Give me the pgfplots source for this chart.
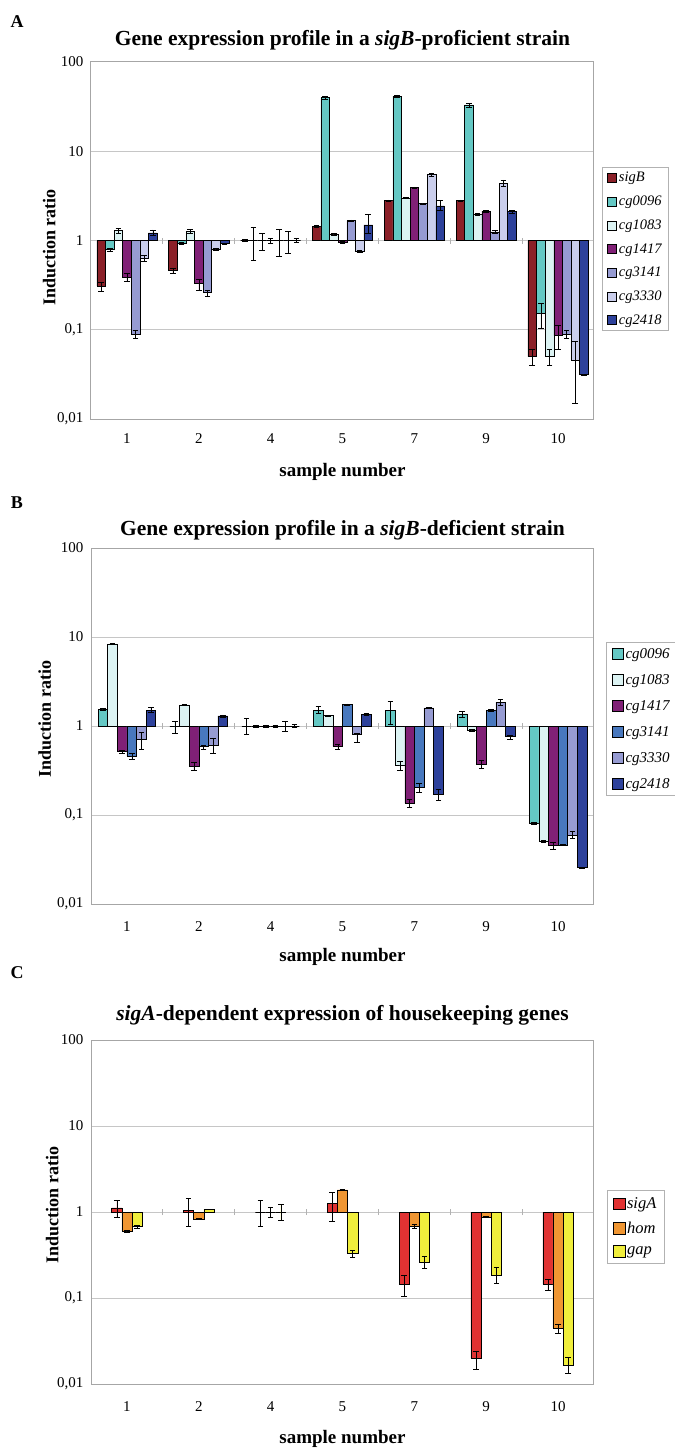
\documentclass[border=0pt]{standalone}
\usepackage{fontspec}
\setmainfont{Liberation Serif}
\usepackage{pgfplots}
\usepackage{pgfplotstable}
\pgfplotsset{compat=1.18}

\definecolor{csigB}{RGB}{139,32,40}
\definecolor{c0096}{RGB}{100,200,196}
\definecolor{c1083}{RGB}{220,243,243}
\definecolor{c1417}{RGB}{128,32,118}
\definecolor{c3141a}{RGB}{150,155,210}
\definecolor{c3330a}{RGB}{202,206,236}
\definecolor{c2418}{RGB}{45,65,155}
\definecolor{c3141b}{RGB}{72,120,190}
\definecolor{c3330b}{RGB}{150,155,210}
\definecolor{csigA}{RGB}{225,50,50}
\definecolor{chom}{RGB}{240,150,50}
\definecolor{cgap}{RGB}{240,238,60}

% samples 1,2,4,5,7,9,10 at x = 0..6; value, error plus, error minus
\pgfplotstableread{
x B Bp Bm c96 c96p c96m c83 c83p c83m c17 c17p c17m c41 c41p c41m c30 c30p c30m c18 c18p c18m
0 0.31 0.035 0.04 0.79 0.03 0.03 1.3 0.08 0.08 0.39 0.04 0.04 0.09 0.01 0.01 0.64 0.04 0.06 1.22 0.1 0.08
1 0.46 0.03 0.03 0.93 0.02 0.02 1.27 0.07 0.07 0.33 0.04 0.05 0.26 0.015 0.025 0.79 0.02 0.02 0.92 0.02 0.02
2 1 0.03 0.03 1 0.42 0.4 1 0.2 0.22 1 0.06 0.06 1 0.33 0.33 1 0.28 0.27 1 0.05 0.05
3 1.45 0.05 0.05 40 1.5 1.5 1.17 0.03 0.03 0.96 0.02 0.02 1.67 0.04 0.04 0.76 0.02 0.02 1.5 0.45 0.3
4 2.8 0.05 0.05 41.5 1.5 1.5 3.0 0.05 0.05 3.9 0.08 0.08 2.6 0.04 0.04 5.5 0.25 0.25 2.45 0.35 0.25
5 2.8 0.05 0.05 33 1.5 1.5 1.97 0.04 0.04 2.13 0.04 0.04 1.25 0.04 0.04 4.4 0.4 0.3 2.1 0.06 0.06
6 0.05 0.01 0.01 0.153 0.045 0.05 0.05 0.01 0.01 0.086 0.026 0.025 0.09 0.01 0.01 0.046 0.028 0.031 0.0316 0.0005 0.0005
}\tabA

\pgfplotstableread{
x c96 c96p c96m c83 c83p c83m c17 c17p c17m c41 c41p c41m c30 c30p c30m c18 c18p c18m
0 1.55 0.05 0.05 8.4 0.2 0.2 0.52 0.02 0.03 0.46 0.04 0.04 0.71 0.15 0.16 1.5 0.12 0.08
1 1 0.14 0.16 1.73 0.02 0.02 0.35 0.04 0.035 0.59 0.02 0.035 0.61 0.12 0.12 1.3 0.03 0.03
2 1 0.21 0.2 1 0.03 0.03 1 0.03 0.03 1 0.03 0.03 1 0.14 0.12 1 0.04 0.04
3 1.5 0.17 0.1 1.32 0.02 0.02 0.59 0.03 0.035 1.75 0.03 0.03 0.8 0.02 0.15 1.35 0.03 0.03
4 1.5 0.4 0.45 0.36 0.04 0.04 0.136 0.015 0.015 0.205 0.025 0.025 1.6 0.03 0.03 0.17 0.024 0.022
5 1.37 0.1 0.1 0.89 0.02 0.02 0.37 0.04 0.035 1.5 0.05 0.05 1.85 0.15 0.15 0.77 0.02 0.06
6 0.081 0.003 0.003 0.051 0.001 0.001 0.046 0.004 0.005 0.046 0.0005 0.0005 0.06 0.006 0.005 0.0258 0.0003 0.0003
}\tabB

\pgfplotstableread{
x A Ap Am h hp hm g gp gm
0 1.12 0.26 0.24 0.60 0.01 0.01 0.69 0.02 0.05
1 1.05 0.38 0.36 0.83 0.01 0.01 1.08 0.01 0.01
2 1 0.36 0.31 1 0.15 0.14 1 0.23 0.19
3 1.25 0.44 0.47 1.81 0.02 0.02 0.33 0.03 0.035
4 0.145 0.04 0.04 0.69 0.03 0.04 0.26 0.045 0.04
5 0.02 0.004 0.005 0.88 0.015 0.015 0.185 0.045 0.038
6 0.145 0.02 0.022 0.045 0.005 0.006 0.0165 0.004 0.0032
}\tabC

\newcommand{\tickfont}{\fontsize{15bp}{17bp}\selectfont}
\newcommand{\legfont}{\fontsize{14.5bp}{16bp}\selectfont\itshape}
\newcommand{\labfont}{\bfseries\fontsize{19bp}{21bp}\selectfont}
\newcommand{\ylabfont}{\bfseries\fontsize{18bp}{20bp}\selectfont}
\newcommand{\titfont}{\bfseries\fontsize{21.5bp}{24bp}\selectfont}
\newcommand{\letfont}{\bfseries\fontsize{18bp}{18bp}\selectfont}

\begin{document}
\begin{tikzpicture}
\useasboundingbox (0,0) rectangle (675bp,-1448bp);

\node[font=\letfont] at (17bp,-22bp) {A};
\node[font=\letfont] at (17bp,-503bp) {B};
\node[font=\letfont] at (17bp,-973bp) {C};

% ---------- A ----------
\begin{axis}[
  at={(91bp,-419bp)}, anchor=south west,
  scale only axis, width=503bp, height=357bp,
  ymode=log, ymin=0.01, ymax=100,
  xmin=-0.5, xmax=6.5,
  xtick={0,...,6}, xticklabels={1,2,4,5,7,9,10},
  ytick={0.01,0.1,1,10,100}, yticklabels={{0,01},{0,1},1,10,100},
  yminorticks=false, major tick length=0pt,
  ymajorgrids, grid style={draw=gray!45, line width=1bp},
  axis line style={draw=gray!70, line width=1bp},
  ticklabel style={font=\tickfont},
  yticklabel style={xshift=-4bp},
  xticklabel style={anchor=center, yshift=-20bp},
  ylabel={Induction ratio},
  ylabel style={font=\ylabfont, at={(axis description cs:-0.083,0.48)}, anchor=center},
  xlabel={sample number},
  xlabel style={font=\labfont, at={(axis description cs:0.5,-0.148)}, anchor=center},
  title={Gene expression profile in a \textit{sigB}-proficient strain},
  title style={font=\titfont, at={(axis description cs:0.5,1)}, anchor=center, yshift=16bp},
  ybar=0pt, bar width=8.6bp,
  every axis plot/.append style={area legend},
  legend image post style={xscale=0.53, yscale=1.6},
  legend cell align=left,
  legend style={at={(axis description cs:1.016,0.706)}, anchor=north west,
    draw=gray!60, line width=0.8bp, font=\legfont, inner xsep=5bp, inner ysep=3bp, row sep=8.6bp},
]
\addplot[draw=black, fill=csigB, line width=0.5bp, error bars/.cd, y dir=both, y explicit, error mark options={rotate=90, mark size=2.8bp}] table[x=x, y=B, y error plus=Bp, y error minus=Bm] {\tabA};
\addplot[draw=black, fill=c0096, line width=0.5bp, error bars/.cd, y dir=both, y explicit, error mark options={rotate=90, mark size=2.8bp}] table[x=x, y=c96, y error plus=c96p, y error minus=c96m] {\tabA};
\addplot[draw=black, fill=c1083, line width=0.5bp, error bars/.cd, y dir=both, y explicit, error mark options={rotate=90, mark size=2.8bp}] table[x=x, y=c83, y error plus=c83p, y error minus=c83m] {\tabA};
\addplot[draw=black, fill=c1417, line width=0.5bp, error bars/.cd, y dir=both, y explicit, error mark options={rotate=90, mark size=2.8bp}] table[x=x, y=c17, y error plus=c17p, y error minus=c17m] {\tabA};
\addplot[draw=black, fill=c3141a, line width=0.5bp, error bars/.cd, y dir=both, y explicit, error mark options={rotate=90, mark size=2.8bp}] table[x=x, y=c41, y error plus=c41p, y error minus=c41m] {\tabA};
\addplot[draw=black, fill=c3330a, line width=0.5bp, error bars/.cd, y dir=both, y explicit, error mark options={rotate=90, mark size=2.8bp}] table[x=x, y=c30, y error plus=c30p, y error minus=c30m] {\tabA};
\addplot[draw=black, fill=c2418, line width=0.5bp, error bars/.cd, y dir=both, y explicit, error mark options={rotate=90, mark size=2.8bp}] table[x=x, y=c18, y error plus=c18p, y error minus=c18m] {\tabA};
\legend{sigB, cg0096, cg1083, cg1417, cg3141, cg3330, cg2418}
\pgfplotsinvokeforeach{0.5,1.5,2.5,3.5,4.5,5.5}{
  \draw[gray!60, line width=0.8bp] ([yshift=-3bp]axis cs:#1,1) -- ([yshift=3bp]axis cs:#1,1);}
\end{axis}

% ---------- B ----------
\begin{axis}[
  at={(91bp,-904bp)}, anchor=south west,
  scale only axis, width=503bp, height=356bp,
  ymode=log, ymin=0.01, ymax=100,
  xmin=-0.5, xmax=6.5,
  xtick={0,...,6}, xticklabels={1,2,4,5,7,9,10},
  ytick={0.01,0.1,1,10,100}, yticklabels={{0,01},{0,1},1,10,100},
  yminorticks=false, major tick length=0pt,
  ymajorgrids, grid style={draw=gray!45, line width=1bp},
  axis line style={draw=gray!70, line width=1bp},
  ticklabel style={font=\tickfont},
  yticklabel style={xshift=-4bp},
  xticklabel style={anchor=center, yshift=-23bp},
  ylabel={Induction ratio},
  ylabel style={font=\ylabfont, at={(axis description cs:-0.092,0.52)}, anchor=center},
  xlabel={sample number},
  xlabel style={font=\labfont, at={(axis description cs:0.5,-0.149)}, anchor=center},
  title={Gene expression profile in a \textit{sigB}-deficient strain},
  title style={font=\titfont, at={(axis description cs:0.5,1)}, anchor=center, yshift=12bp},
  ybar=0pt, bar width=9.6bp,
  every axis plot/.append style={area legend},
  legend image post style={xscale=0.62, yscale=1.9},
  legend cell align=left,
  legend style={at={(axis description cs:1.024,0.736)}, anchor=north west,
    draw=gray!60, line width=0.8bp, font=\fontsize{15bp}{16bp}\selectfont\itshape,
    inner xsep=6bp, inner ysep=4bp, row sep=10.5bp},
]
\addplot[draw=black, fill=c0096, line width=0.5bp, error bars/.cd, y dir=both, y explicit, error mark options={rotate=90, mark size=2.8bp}] table[x=x, y=c96, y error plus=c96p, y error minus=c96m] {\tabB};
\addplot[draw=black, fill=c1083, line width=0.5bp, error bars/.cd, y dir=both, y explicit, error mark options={rotate=90, mark size=2.8bp}] table[x=x, y=c83, y error plus=c83p, y error minus=c83m] {\tabB};
\addplot[draw=black, fill=c1417, line width=0.5bp, error bars/.cd, y dir=both, y explicit, error mark options={rotate=90, mark size=2.8bp}] table[x=x, y=c17, y error plus=c17p, y error minus=c17m] {\tabB};
\addplot[draw=black, fill=c3141b, line width=0.5bp, error bars/.cd, y dir=both, y explicit, error mark options={rotate=90, mark size=2.8bp}] table[x=x, y=c41, y error plus=c41p, y error minus=c41m] {\tabB};
\addplot[draw=black, fill=c3330b, line width=0.5bp, error bars/.cd, y dir=both, y explicit, error mark options={rotate=90, mark size=2.8bp}] table[x=x, y=c30, y error plus=c30p, y error minus=c30m] {\tabB};
\addplot[draw=black, fill=c2418, line width=0.5bp, error bars/.cd, y dir=both, y explicit, error mark options={rotate=90, mark size=2.8bp}] table[x=x, y=c18, y error plus=c18p, y error minus=c18m] {\tabB};
\legend{cg0096, cg1083, cg1417, cg3141, cg3330, cg2418}
\pgfplotsinvokeforeach{0.5,1.5,2.5,3.5,4.5,5.5}{
  \draw[gray!60, line width=0.8bp] ([yshift=-3bp]axis cs:#1,1) -- ([yshift=3bp]axis cs:#1,1);}
\end{axis}

% ---------- C ----------
\begin{axis}[
  at={(91bp,-1384bp)}, anchor=south west,
  scale only axis, width=503bp, height=344bp,
  ymode=log, ymin=0.01, ymax=100,
  xmin=-0.5, xmax=6.5,
  xtick={0,...,6}, xticklabels={1,2,4,5,7,9,10},
  ytick={0.01,0.1,1,10,100}, yticklabels={{0,01},{0,1},1,10,100},
  yminorticks=false, major tick length=0pt,
  ymajorgrids, grid style={draw=gray!45, line width=1bp},
  axis line style={draw=gray!70, line width=1bp},
  ticklabel style={font=\tickfont},
  yticklabel style={xshift=-4bp},
  xticklabel style={anchor=center, yshift=-23bp},
  ylabel={Induction ratio},
  ylabel style={font=\ylabfont, at={(axis description cs:-0.077,0.52)}, anchor=center},
  xlabel={sample number},
  xlabel style={font=\labfont, at={(axis description cs:0.5,-0.160)}, anchor=center},
  title={\textit{sigA}-dependent expression of housekeeping genes},
  title style={font=\titfont, at={(axis description cs:0.5,1)}, anchor=center, yshift=19bp},
  ybar=0pt, bar width=10.2bp,
  every axis plot/.append style={area legend},
  legend image post style={xscale=0.65, yscale=2.0},
  legend cell align=left,
  legend style={at={(axis description cs:1.026,0.564)}, anchor=north west,
    draw=gray!60, line width=0.8bp, font=\fontsize{16.5bp}{17bp}\selectfont\itshape,
    inner xsep=6bp, inner ysep=5bp, row sep=8bp},
]
\addplot[draw=black, fill=csigA, line width=0.5bp, error bars/.cd, y dir=both, y explicit, error mark options={rotate=90, mark size=2.8bp}] table[x=x, y=A, y error plus=Ap, y error minus=Am] {\tabC};
\addplot[draw=black, fill=chom, line width=0.5bp, error bars/.cd, y dir=both, y explicit, error mark options={rotate=90, mark size=2.8bp}] table[x=x, y=h, y error plus=hp, y error minus=hm] {\tabC};
\addplot[draw=black, fill=cgap, line width=0.5bp, error bars/.cd, y dir=both, y explicit, error mark options={rotate=90, mark size=2.8bp}] table[x=x, y=g, y error plus=gp, y error minus=gm] {\tabC};
\legend{sigA, hom, gap}
\pgfplotsinvokeforeach{0.5,1.5,2.5,3.5,4.5,5.5}{
  \draw[gray!60, line width=0.8bp] ([yshift=-3bp]axis cs:#1,1) -- ([yshift=3bp]axis cs:#1,1);}
\end{axis}
\end{tikzpicture}
\end{document}
